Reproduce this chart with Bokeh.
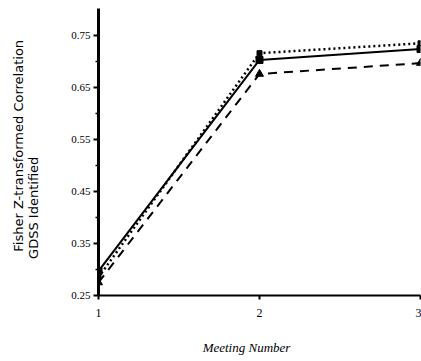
from bokeh.plotting import figure
from bokeh.embed import file_html
from bokeh.resources import INLINE
from bokeh.models import FixedTicker, Range1d, LinearAxis

meetings = [1, 2, 3]
solid_vals = [0.297, 0.703, 0.724]
dotted_vals = [0.285, 0.716, 0.735]
dashed_vals = [0.275, 0.676, 0.697]
y_ticks = [0.25, 0.35, 0.45, 0.55, 0.65, 0.75]
y_minor = [0.30, 0.40, 0.50, 0.60, 0.70]
y_label_lines = ["Fisher Z-transformed Correlation", "GDSS Identified"]
x_label = "Meeting Number"

NB = "\u00a0"  # non-breaking space used as padding to offset centred labels

W, H = 421, 361
BL, BR, BT, BB = 98, 1, 8, 66
fw = W - BL - BR
fh = H - BT - BB
y0, y1 = 0.25, 0.25 + fh / 520.0

p = figure(width=W, height=H, output_backend="svg", toolbar_location=None,
           x_range=Range1d(1, 3), y_range=Range1d(y0, y1),
           min_border_left=BL, min_border_right=BR, min_border_top=BT, min_border_bottom=BB)
p.outline_line_color = None
p.grid.visible = False

p.line(meetings, solid_vals, line_color="black", line_width=2)
p.scatter(meetings, solid_vals, marker="square", size=7, color="black")
p.line(meetings, dotted_vals, line_color="black", line_width=2.5, line_dash="2 3")
p.scatter(meetings, dotted_vals, marker="square", size=5, color="black")
p.line(meetings, dashed_vals, line_color="black", line_width=2, line_dash="9 7")
p.scatter(meetings, dashed_vals, marker="triangle", size=8, color="black")

ya = p.yaxis[0]
ya.ticker = FixedTicker(ticks=y_ticks, minor_ticks=y_minor)
ya.axis_line_width = 3
ya.axis_line_color = "black"
ya.major_tick_out = 5
ya.major_tick_in = 0
ya.major_tick_line_width = 2
ya.minor_tick_out = 3
ya.minor_tick_in = 0
ya.minor_tick_line_width = 1.5
ya.major_label_text_font = "Liberation Serif"
ya.major_label_text_font_size = "11px"
ya.major_label_text_color = "black"
ya.major_label_standoff = 3

xa = p.xaxis[0]
xa.ticker = FixedTicker(ticks=meetings, minor_ticks=[])
xa.axis_line_width = 2
xa.axis_line_color = "black"
xa.major_tick_out = 4
xa.major_tick_in = 0
xa.major_tick_line_width = 2
xa.major_label_text_font = "Liberation Serif"
xa.major_label_text_font_size = "12px"
xa.major_label_text_color = "black"
xa.major_label_standoff = 9


def label_axis(text, standoff, font, style, size):
    return LinearAxis(axis_label=text, ticker=FixedTicker(ticks=[]),
                      axis_line_color=None, major_tick_line_color=None,
                      minor_tick_line_color=None, major_label_text_font_size="0px",
                      major_tick_out=0, minor_tick_out=0, major_label_standoff=0,
                      axis_label_standoff=standoff, axis_label_text_font=font,
                      axis_label_text_font_style=style, axis_label_text_font_size=size,
                      axis_label_text_color="black")

p.add_layout(label_axis(y_label_lines[1] + NB * 27, 28, "DejaVu Sans", "normal", "13px"), "left")
p.add_layout(label_axis(NB * 3 + y_label_lines[0], -3, "DejaVu Sans", "normal", "13px"), "left")
p.add_layout(label_axis(x_label + NB * 8, 20, "Liberation Serif", "italic", "13px"), "below")

open("out.html", "w").write(file_html(p, INLINE))
